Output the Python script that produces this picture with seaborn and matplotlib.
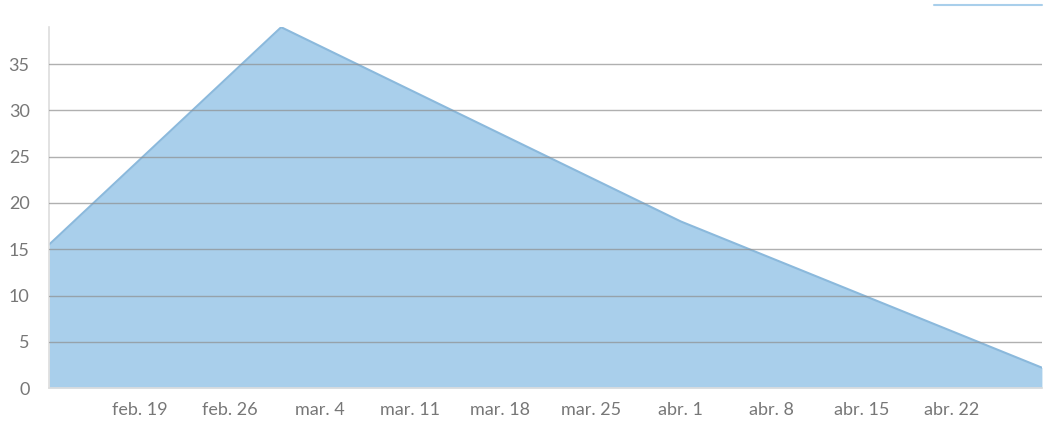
import pandas as pd
import numpy as np
import matplotlib.pyplot as plt
from matplotlib.lines import Line2D
import seaborn as sns

# data
dates = ['2024-02-12', '2024-03-01', '2024-04-01', '2024-04-29']
values = [15.5, 39, 18, 2.2]
tick_dates = ['2024-02-19', '2024-02-26', '2024-03-04', '2024-03-11', '2024-03-18',
              '2024-03-25', '2024-04-01', '2024-04-08', '2024-04-15', '2024-04-22']
tick_labels = ['feb. 19', 'feb. 26', 'mar. 4', 'mar. 11', 'mar. 18',
               'mar. 25', 'abr. 1', 'abr. 8', 'abr. 15', 'abr. 22']
y_ticks = [0, 5, 10, 15, 20, 25, 30, 35]

df = pd.DataFrame({'date': pd.to_datetime(dates), 'value': values})

sns.set_style('white')
plt.rcParams['font.family'] = ['Lato', 'DejaVu Sans']

fig = plt.figure(figsize=(10.44, 4.25), dpi=100)
ax = fig.add_axes([0.047, 0.087, 0.951, 0.849])

fill_color = '#a9cfeb'
ax.fill_between(df['date'], df['value'], 0, color=fill_color, linewidth=0, zorder=1)
sns.lineplot(data=df, x='date', y='value', ax=ax, color='#8bb9dc', linewidth=1.5, zorder=2)

ax.set_xlim(df['date'].iloc[0], df['date'].iloc[-1])
ax.set_ylim(0, 39)

ax.set_yticks(y_ticks)
for y in y_ticks[1:]:
    ax.axhline(y, color='#8f8f8f', linewidth=1, alpha=0.7, zorder=3)

ax.set_xticks(pd.to_datetime(tick_dates))
ax.set_xticklabels(tick_labels)
ax.set_xlabel('')
ax.set_ylabel('')

for s in ['top', 'right']:
    ax.spines[s].set_visible(False)
ax.spines['left'].set_color('#dddddd')
ax.spines['bottom'].set_color('#dddddd')
ax.spines['left'].set_linewidth(1.2)
ax.spines['bottom'].set_linewidth(1.2)

ax.tick_params(axis='x', colors='#cccccc', length=5, width=1, labelcolor='#777777', labelsize=13, pad=5)
ax.tick_params(axis='y', length=0, labelcolor='#777777', labelsize=13, pad=14)

# cut-off legend swatch at top right
fig.add_artist(Line2D([0.895, 0.998], [0.988, 0.988], color='#a9cfeb', linewidth=1.5))

fig.savefig('out.png', dpi=100)
